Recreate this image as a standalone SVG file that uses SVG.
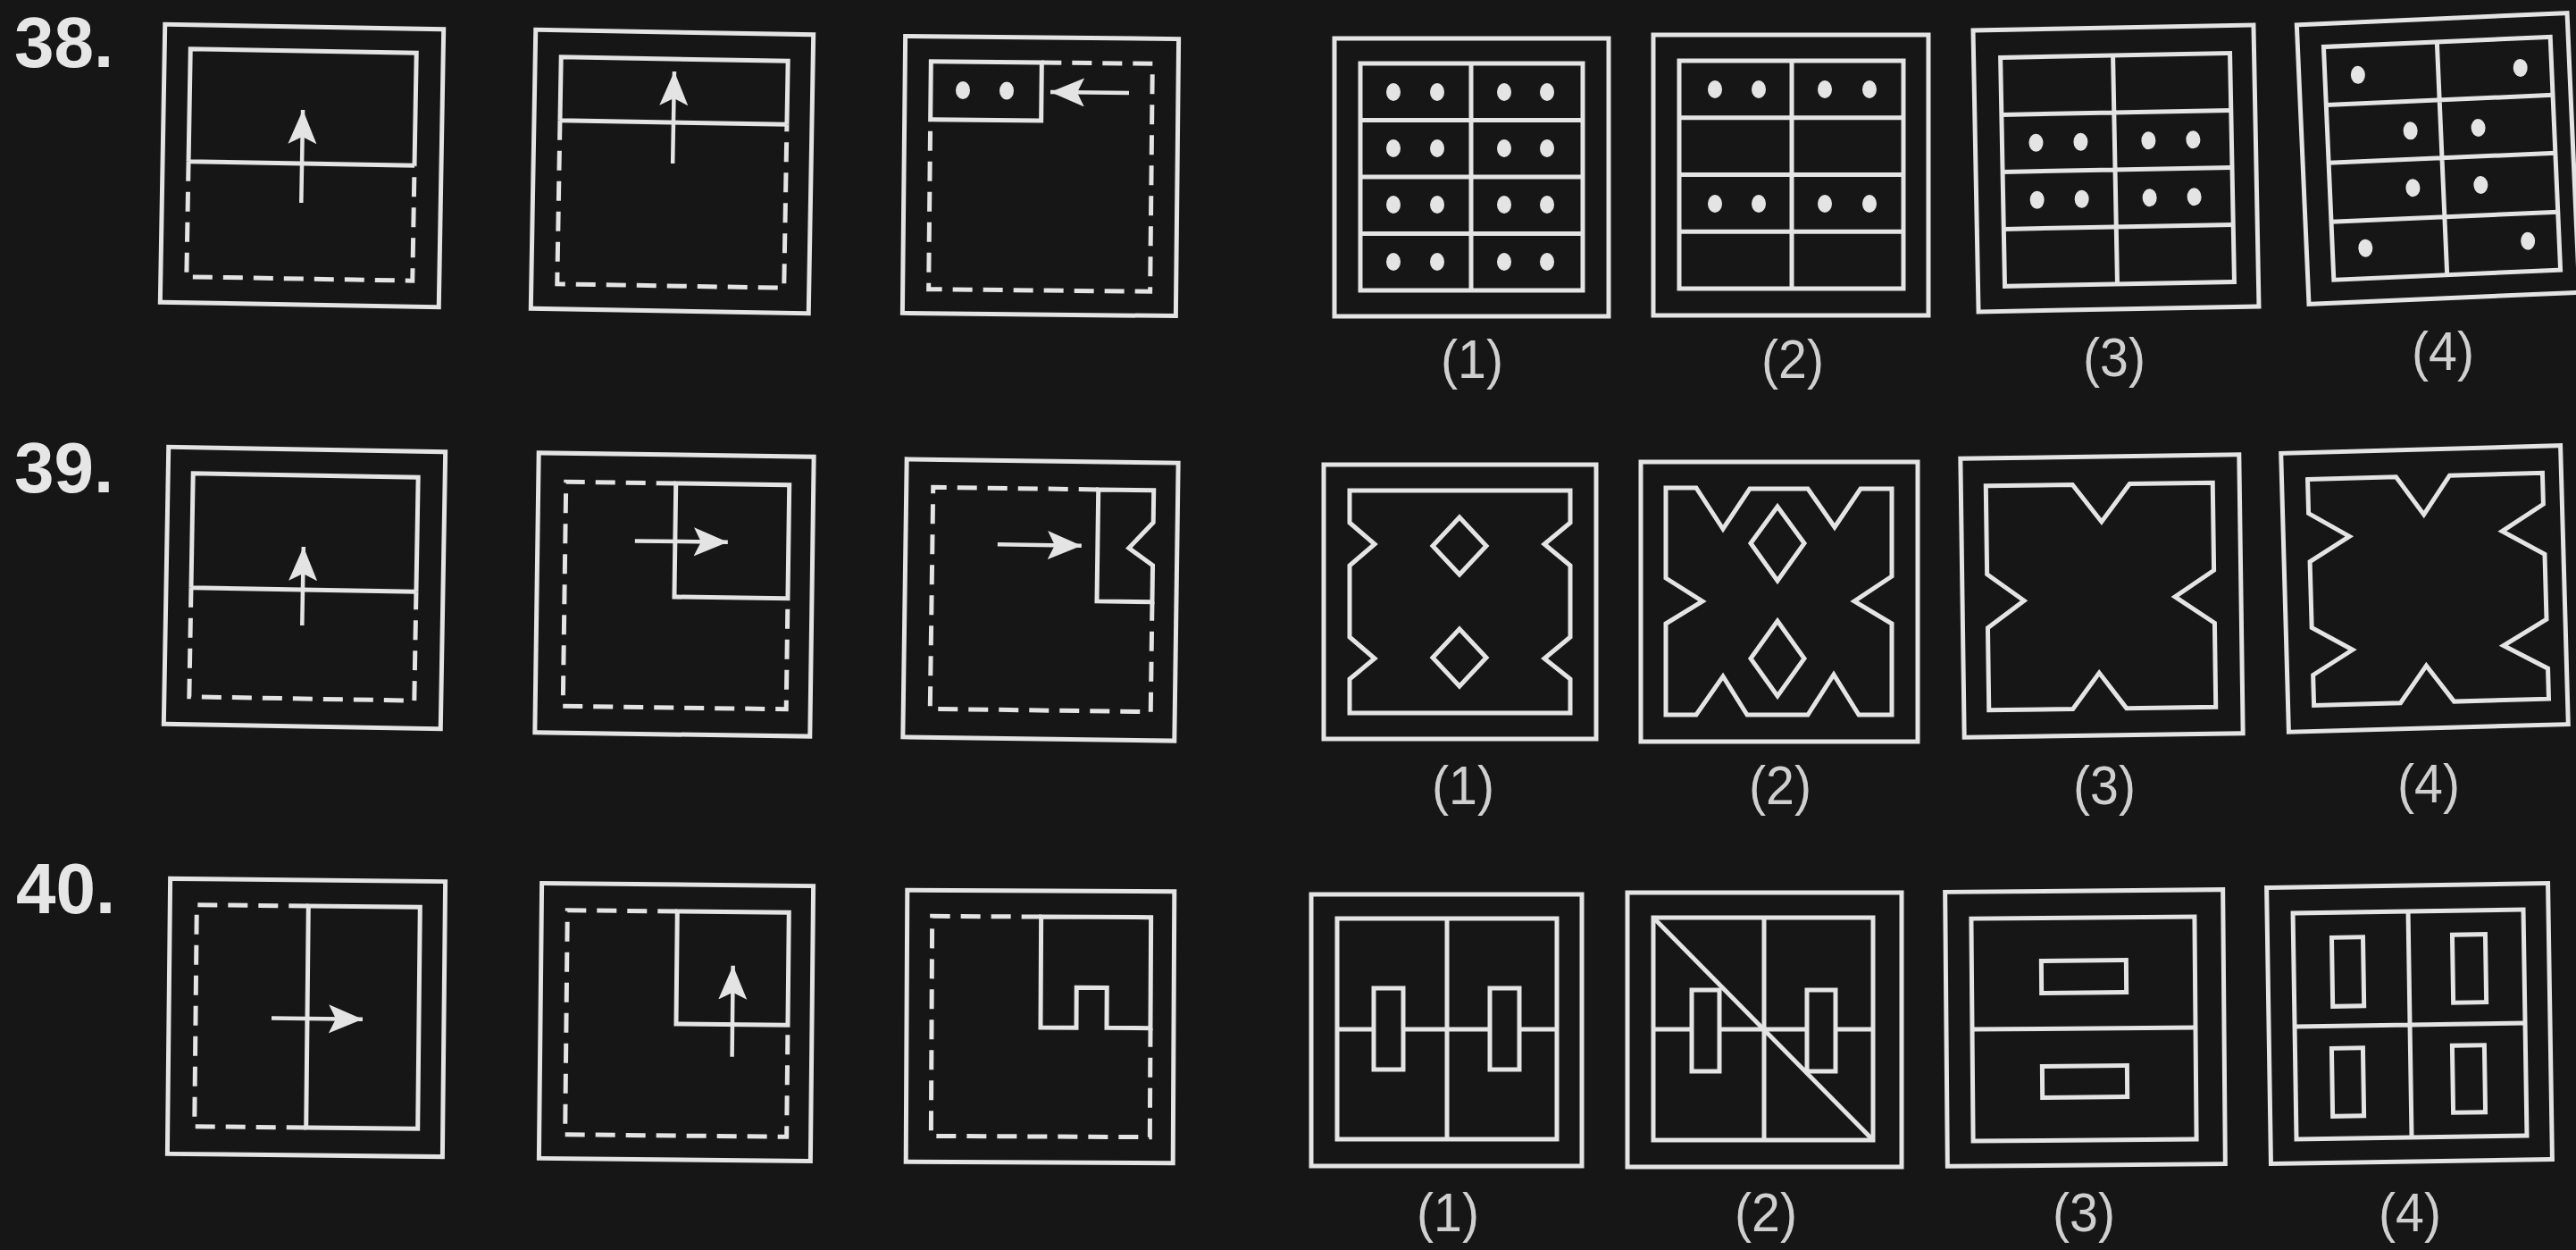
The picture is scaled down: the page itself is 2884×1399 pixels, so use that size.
<svg xmlns="http://www.w3.org/2000/svg" width="2884" height="1399" viewBox="0 0 2884 1399">
<defs>
<style>
.s{fill:none;stroke:#e4e4e4;stroke-width:5;stroke-linejoin:miter;stroke-linecap:butt}
.d{stroke-dasharray:22 12}
.k{fill:#161616;stroke:#e4e4e4;stroke-width:5}
.a{fill:none;stroke:#e4e4e4;stroke-width:4.5;marker-end:url(#ah)}
.dot{fill:#e4e4e4}
.num{font-family:"Liberation Sans","Arial",sans-serif;font-weight:700;font-size:80px;fill:#e6e6e6}
.lab{font-family:"Liberation Sans","Arial",sans-serif;font-size:62px;fill:#cfcfcf;text-anchor:middle}
</style>
<marker id="ah" markerUnits="userSpaceOnUse" markerWidth="40" markerHeight="34" refX="38" refY="16" orient="auto">
<path d="M0,0 L38,16 L0,32 L8,16 Z" fill="#e4e4e4"/>
</marker>
</defs>
<rect x="0" y="0" width="2884" height="1399" fill="#161616"/>

<!-- Row 38 -->
<text class="num" x="16" y="75">38.</text>
<g id="q38-1" transform="rotate(1 338 186)">
<rect class="s" x="182" y="30" width="312" height="311"/>
<path class="s" d="M211,183 V57 H464 V183 M211,183 H464"/>
<path class="s d" d="M211,183 V312 H464 V183"/>
<line class="a" x1="338" y1="227" x2="338" y2="123"/>
</g>
<g id="q38-2" transform="rotate(1 752 192)">
<rect class="s" x="597" y="36" width="311" height="312"/>
<path class="s" d="M626,137 V66 H880 V137 M626,137 H880"/>
<path class="s d" d="M626,137 V320 H880 V137"/>
<line class="a" x1="753" y1="183" x2="753" y2="80"/>
</g>
<g id="q38-3" transform="rotate(0.6 1165 197)">
<rect class="s" x="1012" y="42" width="306" height="310"/>
<path class="s d" d="M1165,70 H1289 V325 H1041 V142"/>
<rect class="s" x="1041" y="70" width="124" height="65"/>
<ellipse class="dot" cx="1077" cy="102" rx="8" ry="10"/>
<ellipse class="dot" cx="1126" cy="102" rx="8" ry="10"/>
<line class="a" x1="1263" y1="103" x2="1175" y2="103"/>
</g>
<g id="o38-1">
<rect class="s" x="1494" y="43" width="307" height="311"/>
<rect class="s" x="1523" y="71" width="249" height="254"/>
<path class="s" d="M1647,71 V325 M1523,134.5 H1772 M1523,198 H1772 M1523,261.5 H1772"/>
<g class="dot">
<ellipse cx="1560" cy="103" rx="8" ry="10"/><ellipse cx="1609" cy="103" rx="8" ry="10"/><ellipse cx="1684" cy="103" rx="8" ry="10"/><ellipse cx="1732" cy="103" rx="8" ry="10"/>
<ellipse cx="1560" cy="166" rx="8" ry="10"/><ellipse cx="1609" cy="166" rx="8" ry="10"/><ellipse cx="1684" cy="166" rx="8" ry="10"/><ellipse cx="1732" cy="166" rx="8" ry="10"/>
<ellipse cx="1560" cy="229" rx="8" ry="10"/><ellipse cx="1609" cy="229" rx="8" ry="10"/><ellipse cx="1684" cy="229" rx="8" ry="10"/><ellipse cx="1732" cy="229" rx="8" ry="10"/>
<ellipse cx="1560" cy="293" rx="8" ry="10"/><ellipse cx="1609" cy="293" rx="8" ry="10"/><ellipse cx="1684" cy="293" rx="8" ry="10"/><ellipse cx="1732" cy="293" rx="8" ry="10"/>
</g>
<text class="lab" x="1648" y="423" textLength="70" lengthAdjust="spacingAndGlyphs">(1)</text>
</g>
<g id="o38-2">
<rect class="s" x="1851" y="39" width="308" height="314"/>
<rect class="s" x="1880" y="68" width="251" height="255"/>
<path class="s" d="M2006,68 V323 M1880,131.75 H2131 M1880,195.5 H2131 M1880,259.25 H2131"/>
<g class="dot">
<ellipse cx="1920" cy="100" rx="8" ry="10"/><ellipse cx="1969" cy="100" rx="8" ry="10"/><ellipse cx="2043" cy="100" rx="8" ry="10"/><ellipse cx="2093" cy="100" rx="8" ry="10"/>
<ellipse cx="1920" cy="228" rx="8" ry="10"/><ellipse cx="1969" cy="228" rx="8" ry="10"/><ellipse cx="2043" cy="228" rx="8" ry="10"/><ellipse cx="2093" cy="228" rx="8" ry="10"/>
</g>
<text class="lab" x="2007" y="423" textLength="70" lengthAdjust="spacingAndGlyphs">(2)</text>
</g>
<g id="o38-3">
<g transform="rotate(-1.1 2369 188)">
<rect class="s" x="2212" y="31" width="314" height="315"/>
<rect class="s" x="2242" y="62" width="257" height="256"/>
<path class="s" d="M2368,62 V318 M2242,126 H2499 M2242,190 H2499 M2242,254 H2499"/>
<g class="dot">
<ellipse cx="2280" cy="158" rx="8" ry="10"/><ellipse cx="2330" cy="158" rx="8" ry="10"/><ellipse cx="2406" cy="158" rx="8" ry="10"/><ellipse cx="2456" cy="158" rx="8" ry="10"/>
<ellipse cx="2280" cy="222" rx="8" ry="10"/><ellipse cx="2330" cy="222" rx="8" ry="10"/><ellipse cx="2406" cy="222" rx="8" ry="10"/><ellipse cx="2456" cy="222" rx="8" ry="10"/>
</g>
</g>
<text class="lab" x="2367" y="421" textLength="70" lengthAdjust="spacingAndGlyphs">(3)</text>
</g>
<g id="o38-4">
<g transform="rotate(-2.5 2730 177)">
<rect class="s" x="2578" y="21" width="303" height="313"/>
<rect class="s" x="2607" y="47" width="254" height="261"/>
<path class="s" d="M2734,47 V308 M2607,112 H2861 M2607,177 H2861 M2607,243 H2861"/>
<g class="dot">
<ellipse cx="2644" cy="80" rx="8" ry="10"/><ellipse cx="2826" cy="80" rx="8" ry="10"/>
<ellipse cx="2700" cy="145" rx="8" ry="10"/><ellipse cx="2776" cy="145" rx="8" ry="10"/>
<ellipse cx="2700" cy="209" rx="8" ry="10"/><ellipse cx="2776" cy="209" rx="8" ry="10"/>
<ellipse cx="2644" cy="274" rx="8" ry="10"/><ellipse cx="2826" cy="274" rx="8" ry="10"/>
</g>
</g>
<text class="lab" x="2735" y="414" textLength="70" lengthAdjust="spacingAndGlyphs">(4)</text>
</g>

<!-- Row 39 -->
<text class="num" x="16" y="551">39.</text>
<g id="q39-1" transform="rotate(1 341 658)">
<rect class="s" x="186" y="503" width="310" height="310"/>
<path class="s" d="M214,660 V532 H466 V660 M214,660 H466"/>
<path class="s d" d="M214,660 V782 H466 V660"/>
<line class="a" x1="339" y1="700" x2="339" y2="612"/>
</g>
<g id="q39-2" transform="rotate(0.8 755 665)">
<rect class="s" x="601" y="509" width="308" height="313"/>
<rect class="s" x="755" y="541" width="127" height="127"/>
<path class="s d" d="M755,541 H632 V792 H882 V668"/>
<line class="a" x1="710" y1="606" x2="814" y2="606"/>
</g>
<g id="q39-3" transform="rotate(0.8 1165 671)">
<rect class="s" x="1013" y="516" width="304" height="311"/>
<path class="s" d="M1228,547 H1290 V583 L1263,612 L1290,631 V672 H1228 Z"/>
<path class="s d" d="M1228,547 H1043 V795 H1290 V672"/>
<line class="a" x1="1116" y1="610" x2="1210" y2="610"/>
</g>
<g id="o39-1">
<rect class="s" x="1482" y="520" width="305" height="307"/>
<path class="s" d="M1511,549 H1758 V585 L1729,609 L1758,633 V713 L1729,737 L1758,760 V798 H1511 V760 L1539,737 L1511,713 V633 L1539,609 L1511,585 Z"/>
<path class="s" d="M1634,579 L1664,611 L1634,643 L1604,611 Z M1634,704 L1664,736 L1634,768 L1604,736 Z"/>
<text class="lab" x="1638" y="900" textLength="70" lengthAdjust="spacingAndGlyphs">(1)</text>
</g>
<g id="o39-2">
<rect class="s" x="1837" y="517" width="310" height="313"/>
<path class="s" d="M1865,546 H1899 L1929,592 L1959,547 H2024 L2054,590 L2083,547 H2118 V645 L2076,673 L2118,698 V800 H2081 L2053,755 L2024,800 H1956 L1929,757 L1899,800 H1865 V698 L1906,673 L1865,647 Z"/>
<path class="s" d="M1990,567 L2020,608 L1990,650 L1960,608 Z M1990,695 L2020,737 L1990,779 L1960,737 Z"/>
<text class="lab" x="1993" y="900" textLength="70" lengthAdjust="spacingAndGlyphs">(2)</text>
</g>
<g id="o39-3">
<g transform="rotate(-0.8 2353 667)">
<rect class="s" x="2197" y="511" width="312" height="312"/>
<path class="s" d="M2225,542 H2322 L2354,584 L2386,542 H2479 V640 L2435,669 L2479,699 V793 H2379 L2349,753 L2319,793 H2225 V701 L2266,671 L2225,641 Z"/>
</g>
<text class="lab" x="2356" y="900" textLength="70" lengthAdjust="spacingAndGlyphs">(3)</text>
</g>
<g id="o39-4">
<g transform="rotate(-1.6 2714 659)">
<rect class="s" x="2558" y="503" width="313" height="312"/>
<path class="s" d="M2587,533 H2686 L2716,576 L2746,533 H2850 V568 L2803,597 L2850,624 V697 L2801,725 L2850,752 V786 H2744 L2714,745 L2684,786 H2587 V752 L2632,725 L2587,699 V625 L2632,598 L2587,571 Z"/>
</g>
<text class="lab" x="2719" y="898" textLength="70" lengthAdjust="spacingAndGlyphs">(4)</text>
</g>

<!-- Row 40 -->
<text class="num" x="18" y="1022">40.</text>
<g id="q40-1" transform="rotate(0.6 343 1139)">
<rect class="s" x="189" y="985" width="308" height="308"/>
<path class="s" d="M344,1014 H469 V1262 H344 Z"/>
<path class="s d" d="M344,1014 H219 V1262 H344"/>
<line class="a" x1="304" y1="1140" x2="406" y2="1140"/>
</g>
<g id="q40-2" transform="rotate(0.6 757 1144)">
<rect class="s" x="605" y="990" width="304" height="308"/>
<rect class="s" x="757" y="1020" width="125" height="126"/>
<path class="s d" d="M757,1020 H634 V1271 H882 V1146"/>
<line class="a" x1="820" y1="1182" x2="820" y2="1080"/>
</g>
<g id="q40-3" transform="rotate(0.3 1165 1149)">
<rect class="s" x="1015" y="997" width="299" height="304"/>
<path class="s" d="M1165,1026 H1288 V1150 H1239 V1105 H1205 V1150 H1165 Z"/>
<path class="s d" d="M1165,1026 H1043 V1272 H1288 V1150"/>
</g>
<g id="o40-1">
<rect class="s" x="1468" y="1001" width="303" height="304"/>
<rect class="s" x="1497" y="1028" width="246" height="247"/>
<path class="s" d="M1620,1028 V1275 M1497,1152 H1743"/>
<rect class="k" x="1538" y="1106" width="33" height="91"/>
<rect class="k" x="1668" y="1106" width="33" height="91"/>
<text class="lab" x="1621" y="1378" textLength="70" lengthAdjust="spacingAndGlyphs">(1)</text>
</g>
<g id="o40-2">
<rect class="s" x="1822" y="999" width="307" height="307"/>
<rect class="s" x="1851" y="1027" width="246" height="249"/>
<path class="s" d="M1975,1027 V1276 M1851,1152 H2097"/>
<rect class="k" x="1894" y="1108" width="31" height="91"/>
<rect class="k" x="2023" y="1108" width="32" height="91"/>
<line class="s" x1="1851" y1="1027" x2="2097" y2="1276"/>
<text class="lab" x="1977" y="1378" textLength="70" lengthAdjust="spacingAndGlyphs">(2)</text>
</g>
<g id="o40-3">
<g transform="rotate(-0.5 2334 1150)">
<rect class="s" x="2179" y="997" width="311" height="307"/>
<rect class="s" x="2208" y="1027" width="250" height="249"/>
<line class="s" x1="2208" y1="1151" x2="2458" y2="1151"/>
<rect class="s" x="2286" y="1075" width="95" height="36"/>
<rect class="s" x="2286" y="1193" width="95" height="35"/>
</g>
<text class="lab" x="2333" y="1378" textLength="70" lengthAdjust="spacingAndGlyphs">(3)</text>
</g>
<g id="o40-4">
<g transform="rotate(-0.9 2697 1145)">
<rect class="s" x="2540" y="991" width="315" height="309"/>
<rect class="s" x="2569" y="1020" width="258" height="253"/>
<path class="s" d="M2698,1020 V1273 M2569,1147 H2827"/>
<rect class="s" x="2612" y="1048" width="35" height="77"/>
<rect class="s" x="2747" y="1047" width="37" height="76"/>
<rect class="s" x="2610" y="1172" width="35" height="76"/>
<rect class="s" x="2745" y="1171" width="36" height="75"/>
</g>
<text class="lab" x="2698" y="1378" textLength="70" lengthAdjust="spacingAndGlyphs">(4)</text>
</g>
</svg>
